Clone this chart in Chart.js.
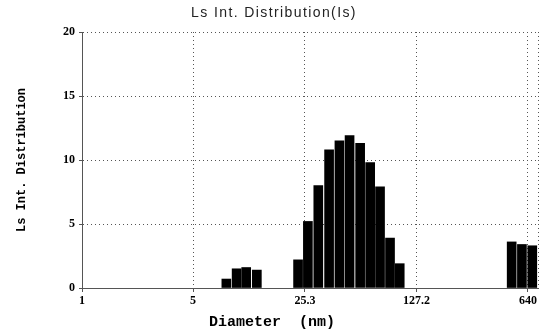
<!DOCTYPE html>
<html>
<head>
<meta charset="utf-8">
<script src="https://cdn.jsdelivr.net/npm/chart.js@4/dist/chart.umd.min.js"></script>
<style>
  html, body { margin: 0; padding: 0; background: #fff; }
  #wrap { width: 543px; height: 331px; }
</style>
</head>
<body>
<div id="wrap"><canvas id="chart" width="543" height="331"></canvas></div>
<script>
// diameter bins (nm) and intensity (%)
var diameters = [8.1, 9.4, 10.8, 12.6, 22.9, 26.4, 30.7, 35.9, 41.7, 48.3, 56.3, 65.1, 75.1, 86.8, 99.9, 506, 587, 682];
var intensity = [0.7, 1.5, 1.6, 1.4, 2.2, 5.2, 8.0, 10.8, 11.5, 11.9, 11.3, 9.8, 7.9, 3.9, 1.9, 3.6, 3.4, 3.3];
var xTicks = [1, 5, 25.3, 127.2, 640];
var yTicks = [0, 5, 10, 15, 20];
var chartTitle = 'Ls Int. Distribution(Is)';
var xTitle = 'Diameter  (nm)';
var yTitle = 'Ls Int. Distribution';

var points = diameters.map(function (d, i) { return { x: d, y: intensity[i] }; });

// title (letter spaced), x title and the dotted right edge of the frame
var textPlugin = {
  id: 'printout',
  afterDraw: function (chart) {
    var a = chart.chartArea, ctx = chart.ctx;
    ctx.save();
    ctx.strokeStyle = '#555';
    ctx.lineWidth = 1;
    ctx.setLineDash([1, 3]);
    ctx.beginPath();
    ctx.moveTo(a.right + 0.5, a.top);
    ctx.lineTo(a.right + 0.5, a.bottom);
    ctx.stroke();

    ctx.textAlign = 'center';
    ctx.textBaseline = 'middle';
    ctx.fillStyle = '#222';
    ctx.font = 'normal 14px "Liberation Sans"';
    ctx.letterSpacing = '1.4px';
    ctx.fillText(chartTitle, 274, 13);

    ctx.fillStyle = '#000';
    ctx.font = 'bold 15px "Liberation Mono"';
    ctx.letterSpacing = '0px';
    ctx.fillText(xTitle, 272, 322);
    ctx.restore();
  }
};

var ctx = document.getElementById('chart').getContext('2d');
new Chart(ctx, {
  type: 'bar',
  data: {
    datasets: [{
      data: points,
      backgroundColor: '#000',
      borderWidth: 0,
      barThickness: 9
    }]
  },
  options: {
    responsive: false,
    animation: false,
    layout: { padding: { left: 0, right: 5, top: 32, bottom: 0 } },
    plugins: {
      legend: { display: false },
      tooltip: { enabled: false },
      title: { display: false }
    },
    scales: {
      x: {
        type: 'logarithmic',
        min: 1,
        max: 741,
        afterBuildTicks: function (scale) {
          scale.ticks = xTicks.map(function (v) { return { value: v }; });
        },
        afterFit: function (scale) { scale.height = 43; },
        ticks: {
          autoSkip: false,
          maxRotation: 0,
          color: '#000',
          padding: 2,
          font: { family: 'Liberation Serif', size: 12, weight: 'bold' },
          callback: function (v) { return String(v); }
        },
        grid: { color: '#555', lineWidth: 1, tickLength: 4, offset: false },
        border: { display: true, color: '#555', dash: [1, 3] }
      },
      y: {
        min: 0,
        max: 20,
        afterBuildTicks: function (scale) {
          scale.ticks = yTicks.map(function (v) { return { value: v }; });
        },
        afterFit: function (scale) { scale.width = 82; },
        ticks: {
          color: '#000',
          padding: 4,
          font: { family: 'Liberation Serif', size: 12, weight: 'bold' }
        },
        grid: { color: '#555', lineWidth: 1, tickLength: 3 },
        border: { display: true, color: '#555', dash: [1, 3] },
        title: {
          display: true,
          text: yTitle,
          color: '#000',
          font: { family: 'Liberation Mono', size: 12, weight: 'bold' },
          padding: { top: 15, bottom: 0 }
        }
      }
    }
  },
  plugins: [textPlugin]
});
</script>
</body>
</html>
